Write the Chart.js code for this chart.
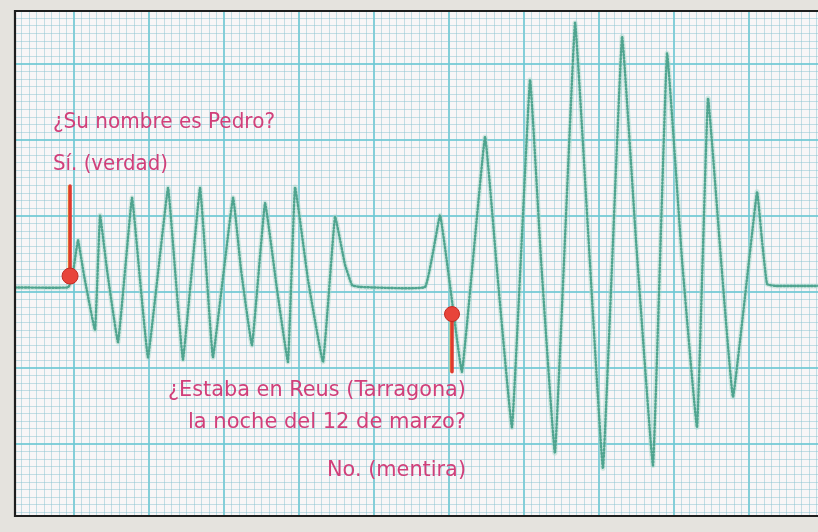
<!DOCTYPE html>
<html>
<head>
<meta charset="utf-8">
<script src="https://cdn.jsdelivr.net/npm/chart.js@4.4.1/dist/chart.umd.min.js"></script>
<style>
  html, body { margin: 0; padding: 0; background: #e5e3de; }
  #wrap { width: 818px; height: 532px; }
</style>
</head>
<body>
<div id="wrap"><canvas id="c" width="818" height="532"></canvas></div>
<script>
// Polygraph trace, in grid units (x: small squares from the first bold line, y: small squares above the bold line near the baseline)
const traceX = [-7.9, -0.8, -0.27, 0.53, 1.33, 2.8, 3.47, 4.4, 5.87, 7.73, 8.8, 9.87, 12.53, 13.47, 14.53, 16.8, 17.73, 18.53, 21.2, 22.27, 23.73, 25.47, 27.07, 28.53, 29.47, 31.2, 33.2, 34.8, 36.13, 37.07, 38.13, 46.8, 48.8, 50.13, 51.73, 54.8, 56.4, 58.4, 60.8, 62.27, 64.13, 66.8, 68.53, 70.53, 73.07, 74.93, 77.2, 79.07, 81.07, 83.07, 84.53, 86.27, 87.87, 91.07, 91.73, 92.4, 93.47, 99.3];
const traceY = [0.6, 0.6, 1.7, 6.8, 2.2, -5.0, 10.1, 2.9, -6.6, 12.4, 1.6, -8.6, 13.7, 2.9, -8.9, 13.7, 1.6, -8.6, 12.4, 2.9, -7.0, 11.7, 0.3, -9.2, 13.8, 1.6, -9.2, 9.9, 3.6, 0.9, 0.66, 0.66, 10.1, 0.9, -10.5, 20.4, 2.9, -17.8, 27.9, 4.2, -21.2, 35.4, 8.2, -23.2, 33.6, 6.8, -22.8, 31.4, 4.2, -17.8, 25.5, 4.2, -13.8, 13.2, 6.8, 1.05, 0.8, 0.8];

// Question markers: x position, top and bottom of the stem, and which end carries the dot
const markerX = [-0.53, 50.4];
const markerTop = [13.95, -2.9];
const markerBottom = [2.1, -10.5];
const markerDotAtTop = [false, true];

// Annotation texts
const labelsTop = ["¿Su nombre es Pedro?", "Sí. (verdad)"];
const labelsBottom = ["¿Estaba en Reus (Tarragona)", "la noche del 12 de marzo?", "No. (mentira)"];

const X_MIN = -7.87, X_MAX = 99.2, Y_MIN = -29.47, Y_MAX = 36.97;

const tracePts = traceX.map((x, i) => ({ x: x, y: traceY[i] }));

const datasets = [];
markerX.forEach((mx, i) => {
  const top = { x: mx, y: markerTop[i] }, bot = { x: mx, y: markerBottom[i] };
  const dotR = markerDotAtTop[i] ? [7.5, 0] : [0, 8];
  datasets.push({
    data: [top, bot], showLine: true, borderColor: '#e0392f', borderWidth: 3.5,
    pointRadius: dotR, pointBackgroundColor: '#e8443a', pointBorderColor: '#c42a22',
    pointBorderWidth: 1, order: 0
  });
  datasets.push({
    data: [{ x: mx - 0.22, y: markerTop[i] }, { x: mx - 0.22, y: markerBottom[i] }],
    showLine: true, borderColor: '#f2d24c', borderWidth: 1.3, pointRadius: 0, order: 1
  });
});
datasets.push({
  data: tracePts, showLine: true, borderColor: 'rgba(165,215,200,0.45)', borderWidth: 5,
  pointRadius: 0, tension: 0.08, order: 6
});
datasets.push({
  data: tracePts, showLine: true, borderColor: '#4fa48f', borderWidth: 2.4,
  borderDash: [1.3, 2.1], pointRadius: 0, tension: 0.08, order: 5
});

function gridScale(min, max) {
  return {
    type: 'linear', min: min, max: max,
    afterBuildTicks: (s) => {
      const t = [];
      for (let v = Math.ceil(min); v <= max; v++) t.push({ value: v });
      s.ticks = t;
    },
    ticks: { display: false },
    border: { display: false },
    grid: {
      drawTicks: false,
      color: (c) => (c.tick && Math.abs(c.tick.value) % 10 === 0) ? 'rgba(110,200,212,0.85)' : 'rgba(140,195,210,0.5)',
      lineWidth: (c) => (c.tick && Math.abs(c.tick.value) % 10 === 0) ? 2 : 1
    }
  };
}

function fitText(ctx, text, x, y, targetW, align) {
  const w = ctx.measureText(text).width;
  const s = targetW / w;
  ctx.save();
  ctx.translate(align === 'right' ? x - targetW : x, y);
  ctx.scale(s, 1);
  ctx.textAlign = 'left';
  ctx.fillText(text, 0, 0);
  ctx.restore();
}

const paper = {
  id: 'paper',
  beforeDraw(chart) {
    const a = chart.chartArea, ctx = chart.ctx;
    ctx.save();
    ctx.fillStyle = '#f8f6f7';
    ctx.fillRect(a.left, a.top, a.right - a.left, a.bottom - a.top);
    ctx.restore();
  },
  afterDraw(chart) {
    const a = chart.chartArea, ctx = chart.ctx;
    ctx.save();
    ctx.strokeStyle = '#1e1e1e';
    ctx.lineWidth = 2.2;
    ctx.beginPath();
    ctx.moveTo(chart.width + 2, a.top);
    ctx.lineTo(a.left, a.top);
    ctx.lineTo(a.left, a.bottom);
    ctx.lineTo(chart.width + 2, a.bottom);
    ctx.stroke();
    // texts
    ctx.fillStyle = '#d13f7a';
    ctx.font = '20.5px "DejaVu Sans", "Liberation Sans", sans-serif';
    ctx.textBaseline = 'alphabetic';
    fitText(ctx, labelsTop[0], 53, 128, 222, 'left');
    fitText(ctx, labelsTop[1], 53, 170, 115, 'left');
    fitText(ctx, labelsBottom[0], 466, 396, 298, 'right');
    fitText(ctx, labelsBottom[1], 466, 428, 278, 'right');
    fitText(ctx, labelsBottom[2], 466, 476, 139, 'right');
    ctx.restore();
  }
};

new Chart(document.getElementById('c'), {
  type: 'scatter',
  data: { datasets: datasets },
  options: {
    responsive: false, animation: false, devicePixelRatio: 1,
    layout: { autoPadding: false, padding: { left: 15, top: 11, right: 0, bottom: 16 } },
    plugins: { legend: { display: false }, tooltip: { enabled: false } },
    scales: { x: gridScale(X_MIN, X_MAX), y: gridScale(Y_MIN, Y_MAX) },
    elements: { line: { borderCapStyle: 'round' } }
  },
  plugins: [paper]
});
</script>
</body>
</html>
